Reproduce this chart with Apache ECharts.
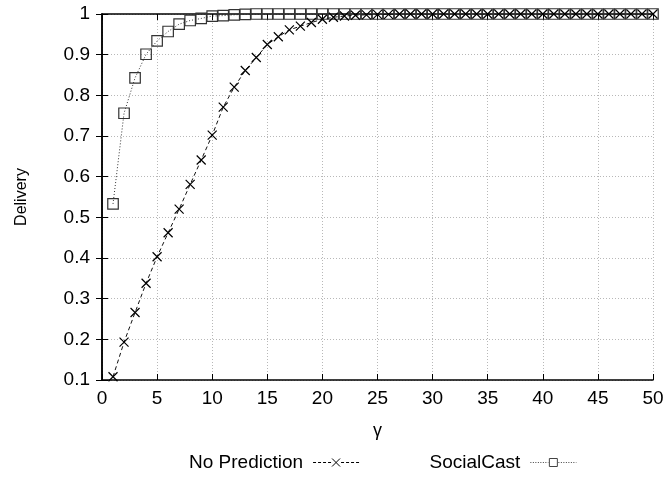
<!DOCTYPE html>
<html>
<head>
<meta charset="utf-8">
<script src="https://cdn.jsdelivr.net/npm/echarts@6/dist/echarts.min.js"></script>
<style>html,body{margin:0;padding:0;background:#fff}#c{width:668px;height:477px}</style>
</head>
<body>
<div id="c"></div>
<script>
const gamma = [1,2,3,4,5,6,7,8,9,10,11,12,13,14,15,16,17,18,19,20,21,22,23,24,25,26,27,28,29,30,31,32,33,34,35,36,37,38,39,40,41,42,43,44,45,46,47,48,49,50];
const noPrediction = [0.108,0.193,0.266,0.338,0.403,0.462,0.520,0.581,0.641,0.702,0.771,0.820,0.861,0.893,0.925,0.944,0.961,0.970,0.979,0.987,0.992,0.995,0.997,0.998,0.999,0.999,1,1,1,1,1,1,1,1,1,1,1,1,1,1,1,1,1,1,1,1,1,1,1,1];
const socialCast = [0.533,0.756,0.843,0.901,0.934,0.957,0.975,0.984,0.989,0.995,0.996,0.998,0.999,1,1,1,1,1,1,1,1,1,1,1,1,1,1,1,1,1,1,1,1,1,1,1,1,1,1,1,1,1,1,1,1,1,1,1,1,1];
const xTicks = [0,5,10,15,20,25,30,35,40,45,50];
const yTicks = [0.1,0.2,0.3,0.4,0.5,0.6,0.7,0.8,0.9,1];
const seriesNames = ['No Prediction','SocialCast'];

const FONT = 'Liberation Sans';
const crossSym = 'path://M0,0L10,10M0,10L10,0';
const rectSym = 'path://M0,0L10,0L10,10L0,10Z';
function dashedPath(seg, gap, mid) {
  let p = '';
  for (let x = 0; x < 18; x += seg + gap) p += 'M' + x + ',5H' + Math.min(x + seg, 18);
  for (let x = 28; x < 46; x += seg + gap) p += 'M' + x + ',5H' + Math.min(x + seg, 46);
  return 'path://M-5,0M46,10' + p + mid;
}
const legendCross = dashedPath(3, 2, 'M19,1L27,9M19,9L27,1');
const legendRect = dashedPath(1, 1.5, 'M19,1H27V9H19Z');

const chart = echarts.init(document.getElementById('c'), null, {renderer: 'canvas'});
const axisLine = {show: true, lineStyle: {color: '#000', width: 1.5}};
const split = {show: true, lineStyle: {color: '#b8b8b8', type: [1, 2], width: 1}};
chart.setOption({
  animation: false,
  backgroundColor: '#fff',
  textStyle: {fontFamily: FONT},
  grid: {left: 102, right: 15, top: 14, bottom: 97, containLabel: false},
  legend: {
    left: 184, top: 448, itemGap: 68, itemWidth: 51, itemHeight: 10, align: 'right',
    textStyle: {fontFamily: FONT, fontSize: 19, color: '#000'},
    data: [
      {name: seriesNames[0], icon: legendCross, itemStyle: {color: 'none', borderColor: '#000', borderWidth: 1}},
      {name: seriesNames[1], icon: legendRect, itemStyle: {color: 'none', borderColor: '#444', borderWidth: 1}}
    ]
  },
  xAxis: [{
    type: 'value', min: 0, max: 50, interval: 5,
    name: 'γ', nameLocation: 'middle', nameGap: 42,
    nameTextStyle: {fontFamily: FONT, fontSize: 18, color: '#000'},
    axisLine: axisLine, axisTick: {show: true, inside: true, length: 6, lineStyle: {color: '#000'}},
    axisLabel: {fontFamily: FONT, fontSize: 19, color: '#000', margin: 9},
    splitLine: split
  }, {
    type: 'value', min: 0, max: 50, interval: 5, position: 'top',
    axisLine: axisLine, axisTick: {show: true, inside: true, length: 6, lineStyle: {color: '#000'}},
    axisLabel: {show: false}, splitLine: {show: false}
  }],
  yAxis: [{
    type: 'value', min: 0.1, max: 1, interval: 0.1,
    name: 'Delivery', nameLocation: 'middle', nameRotate: 90, nameGap: 72,
    nameTextStyle: {fontFamily: FONT, fontSize: 16, color: '#000'},
    axisLine: axisLine, axisTick: {show: true, inside: true, length: 6, lineStyle: {color: '#000'}},
    axisLabel: {fontFamily: FONT, fontSize: 19, color: '#000', margin: 12,
      formatter: v => String(Math.round(v * 10) / 10)},
    splitLine: split
  }, {
    type: 'value', min: 0.1, max: 1, interval: 0.1, position: 'right',
    axisLine: axisLine, axisTick: {show: true, inside: true, length: 6, lineStyle: {color: '#000'}},
    axisLabel: {show: false}, splitLine: {show: false}
  }],
  series: [{
    name: seriesNames[0], type: 'line', z: 3,
    data: gamma.map((g, i) => [g, noPrediction[i]]),
    symbol: crossSym, symbolSize: 9, showAllSymbol: true,
    lineStyle: {color: '#111', width: 1, type: [4, 3]},
    itemStyle: {color: 'none', borderColor: '#000', borderWidth: 1.2}
  }, {
    name: seriesNames[1], type: 'line', z: 2,
    data: gamma.map((g, i) => [g, socialCast[i]]),
    symbol: rectSym, symbolSize: 10.5, showAllSymbol: true,
    lineStyle: {color: '#333', width: 1, type: [1, 2]},
    itemStyle: {color: 'none', borderColor: '#333', borderWidth: 1.2}
  }]
});
</script>
</body>
</html>
